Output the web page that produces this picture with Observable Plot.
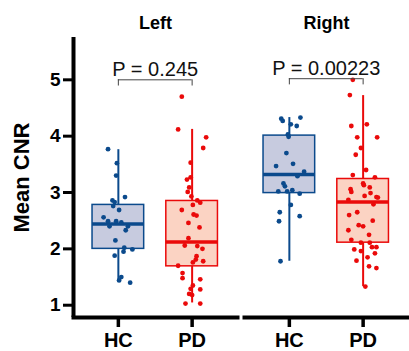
<!DOCTYPE html>
<html><head><meta charset="utf-8">
<script src="https://cdn.jsdelivr.net/npm/d3@7"></script>
<script src="https://cdn.jsdelivr.net/npm/@observablehq/plot@0.6"></script>
<style>body{margin:0;background:#fff} svg{display:block}</style>
</head><body><div id="chart"></div>
<script>
// ---- data ----
const sides = ["Left", "Right"];
const groups = ["HC", "PD"];
const yTicks = [1, 2, 3, 4, 5];
const pLabels = ["P = 0.245", "P = 0.00223"];
const bracketY = [5.0, 5.02];

const leftHC = [3.77,3.52,3.30,2.92,2.86,2.83,2.76,2.69,2.56,2.49,2.49,2.47,2.40,2.40,2.33,2.15,2.02,1.95,1.99,1.88,1.50,1.44,1.40];
const leftHCJitter = [-0.14,-0.02,-0.03,0.09,-0.08,-0.05,-0.07,0.01,-0.20,-0.14,-0.03,0.04,-0.12,0.13,0.10,-0.04,0.08,0.07,0.19,-0.05,0.04,0.01,0.16];

const leftPD = [4.70,4.12,3.98,3.79,3.53,3.27,3.23,3.09,3.01,2.93,2.86,2.82,2.78,2.69,2.61,2.59,2.46,2.38,2.19,2.06,2.05,2.00,1.87,1.81,1.76,1.78,1.70,1.57,1.48,1.46,1.35,1.29,1.28,1.20,1.18,1.03,1.03];
const leftPDJitter = [-0.14,-0.19,0.19,0.15,-0.02,-0.02,-0.07,-0.04,-0.06,-0.01,0.07,0.11,0.01,-0.14,0.02,0.06,-0.05,0.10,-0.05,-0.10,0.07,0.14,0.06,0.05,0.01,0.15,-0.19,-0.13,-0.13,0.11,0.01,-0.02,0.11,-0.04,0.00,-0.09,0.11];

const rightHC = [4.31,4.27,4.33,4.21,4.18,4.03,3.99,3.70,3.47,3.51,3.37,3.29,3.16,3.11,3.02,3.02,3.04,2.98,2.78,2.65,2.58,2.49,1.78];
const rightHCJitter = [-0.11,-0.09,0.15,0.02,0.10,-0.02,-0.01,-0.04,-0.18,0.05,0.20,0.11,-0.08,-0.06,-0.15,-0.03,0.04,0.14,0.02,-0.13,0.14,-0.14,-0.12];

const rightPD = [5.00,4.73,4.18,4.21,3.98,3.98,3.79,3.67,3.40,3.31,3.27,3.16,3.13,3.06,3.01,3.09,2.99,2.94,2.92,2.91,2.87,2.79,2.65,2.60,2.50,2.42,2.40,2.33,2.25,2.16,2.11,2.11,2.03,2.03,1.99,1.96,1.92,1.85,1.79,1.69,1.66,1.33];
const rightPDJitter = [-0.14,-0.18,-0.16,0.05,-0.08,0.19,-0.03,-0.10,0.04,-0.14,0.16,0.00,0.01,-0.17,-0.16,0.09,0.10,0.02,0.18,0.20,-0.20,0.14,-0.08,-0.19,0.13,-0.06,0.00,-0.20,0.08,-0.16,-0.03,0.09,0.12,0.18,-0.12,-0.03,0.16,0.06,-0.09,0.08,0.18,0.03];

// box summaries, order: Left HC, Left PD, Right HC, Right PD
const boxSide  = ["Left", "Left", "Right", "Right"];
const boxGroup = ["HC", "PD", "HC", "PD"];
const boxLow    = [1.41, 1.04, 1.78, 1.33];
const boxQ1     = [2.00, 1.69, 2.99, 2.11];
const boxMedian = [2.44, 2.12, 3.32, 2.83];
const boxQ3     = [2.78, 2.85, 4.01, 3.24];
const boxHigh   = [3.76, 4.12, 4.33, 4.72];

// ---- styles ----
const lineColor = {HC: "#0b4a8c", PD: "#ea0a0a"};
const boxFill = {HC: "#c7cbdf", PD: "#fbd3c3"};
const BOX_HALF = 0.35;
const LEG = 0.11;
const X_DOMAIN = [-0.608, 1.615];
const Y_DOMAIN = [0.782, 5.751];

// ---- build tables ----
const sets = [
  {side: "Left", group: "HC", v: leftHC, j: leftHCJitter},
  {side: "Left", group: "PD", v: leftPD, j: leftPDJitter},
  {side: "Right", group: "HC", v: rightHC, j: rightHCJitter},
  {side: "Right", group: "PD", v: rightPD, j: rightPDJitter}
];
const points = sets.flatMap(s => s.v.map((v, i) => ({side: s.side, group: s.group, value: v, jitter: s.j[i]})));
const boxes = boxSide.map((s, i) => ({side: s, group: boxGroup[i], gi: groups.indexOf(boxGroup[i]),
  lo: boxLow[i], q1: boxQ1[i], med: boxMedian[i], q3: boxQ3[i], hi: boxHigh[i]}));
const brackets = sides.map((s, i) => ({side: s, a: 0, b: 1, y: bracketY[i], label: pLabels[i]}));
const legs = brackets.flatMap(b => [{side: b.side, x: b.a, y: b.y}, {side: b.side, x: b.b, y: b.y}]);

const font = "'Liberation Sans', Arial, Helvetica, sans-serif";

const chart = Plot.plot({
  width: 409, height: 351,
  marginLeft: 72, marginRight: 1, marginTop: 37, marginBottom: 34,
  style: {fontFamily: font, background: "white", color: "black"},
  fx: {domain: sides, paddingInner: 0.042, paddingOuter: 0, label: null},
  x: {domain: X_DOMAIN},
  y: {domain: Y_DOMAIN},
  color: {type: "identity"},
  marks: [
    Plot.axisFx({anchor: "top", tickSize: 0, tickPadding: 9, fontSize: 18, fontWeight: "bold", label: null}),
    Plot.axisY({ticks: yTicks, tickFormat: d => String(d), tickSize: 10, tickPadding: 3, strokeWidth: 3, fontSize: 19, fontWeight: "bold", label: null}),
    Plot.axisY({ticks: [], label: "Mean CNR", labelAnchor: "center", labelArrow: "none", labelOffset: 60, fontSize: 22, fontWeight: "bold"}),
    Plot.axisX({ticks: [0, 1], tickFormat: d => groups[d], tickSize: 10, tickPadding: 5, strokeWidth: 3.5, fontSize: 20, fontWeight: "bold", label: null}),
    // axis lines
    Plot.frame({anchor: "bottom", strokeWidth: 4, stroke: "black"}),
    Plot.ruleX([{side: sides[0]}], {fx: "side", x: () => X_DOMAIN[0], strokeWidth: 4, stroke: "black"}),
    // whiskers
    Plot.ruleX(boxes, {fx: "side", x: "gi", y1: "lo", y2: "q1", stroke: d => lineColor[d.group], strokeWidth: 2}),
    Plot.ruleX(boxes, {fx: "side", x: "gi", y1: "q3", y2: "hi", stroke: d => lineColor[d.group], strokeWidth: 2}),
    // boxes
    Plot.rect(boxes, {fx: "side", x1: d => d.gi - BOX_HALF, x2: d => d.gi + BOX_HALF, y1: "q1", y2: "q3",
      fill: d => boxFill[d.group], stroke: d => lineColor[d.group], strokeWidth: 1.5}),
    Plot.ruleY(boxes, {fx: "side", y: "med", x1: d => d.gi - BOX_HALF, x2: d => d.gi + BOX_HALF, stroke: d => lineColor[d.group], strokeWidth: 3.5}),
    // points
    Plot.dot(points, {fx: "side", x: d => groups.indexOf(d.group) + d.jitter, y: "value", r: 2.4, fill: d => lineColor[d.group], stroke: null}),
    // significance brackets
    Plot.ruleY(brackets, {fx: "side", y: "y", x1: "a", x2: "b", stroke: "#444", strokeWidth: 1}),
    Plot.ruleX(legs, {fx: "side", x: "x", y1: "y", y2: d => d.y - LEG, stroke: "#444", strokeWidth: 1}),
    Plot.text(brackets, {fx: "side", x: d => (d.a + d.b) / 2, y: "y", text: "label", dy: -4, lineAnchor: "bottom", fontSize: 20, fill: "#111"})
  ]
});
document.getElementById("chart").appendChild(chart);
</script>
</body></html>
